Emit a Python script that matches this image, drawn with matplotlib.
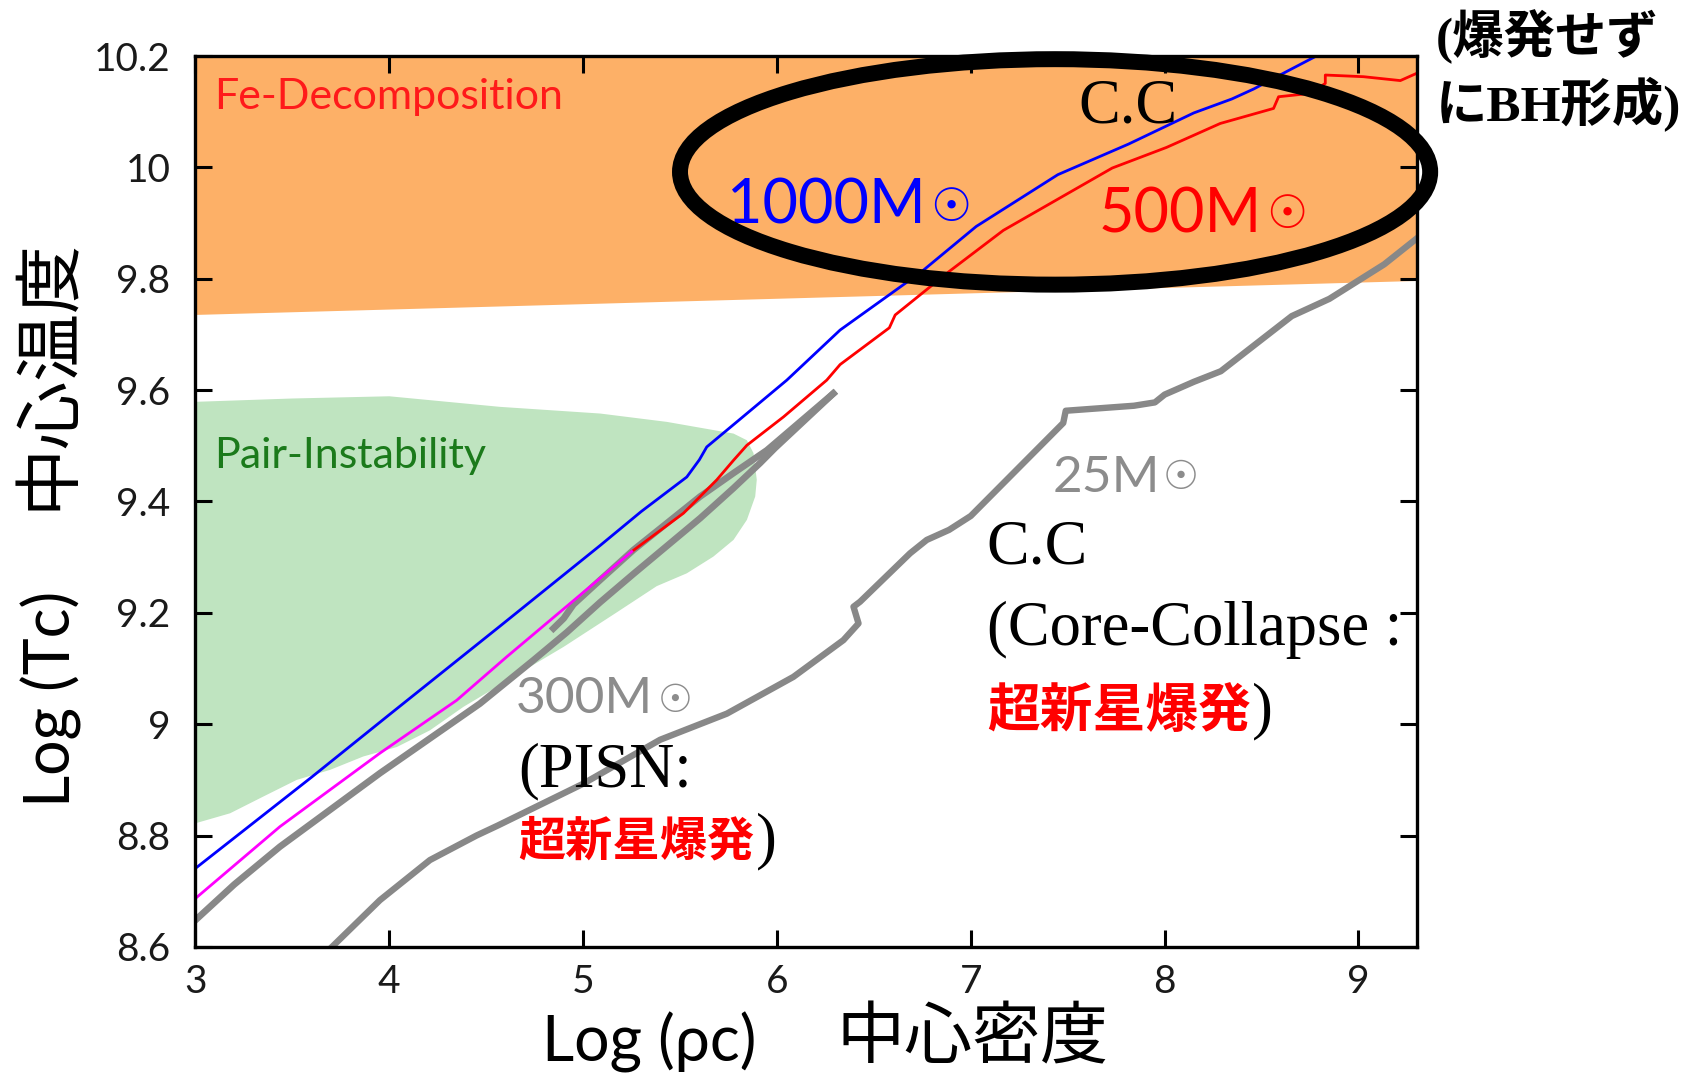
import numpy as np
import matplotlib
matplotlib.use("Agg")
import matplotlib.pyplot as plt
from matplotlib.patches import Ellipse

# ---------------- axes ----------------
x_ticks = [3, 4, 5, 6, 7, 8, 9]
x_tick_labels = ["3", "4", "5", "6", "7", "8", "9"]
y_ticks = [8.6, 8.8, 9.0, 9.2, 9.4, 9.6, 9.8, 10.0, 10.2]
y_tick_labels = ["8.6", "8.8", "9", "9.2", "9.4", "9.6", "9.8", "10", "10.2"]
x_range = (3.0, 9.3)
y_range = (8.6, 10.2)

# ---------------- shaded regimes ----------------
# lower edge of the Fe-decomposition zone (filled up to the top of the plot)
fe_edge_x = [3.0, 9.3]
fe_edge_y = [9.736, 9.797]

# outline of the pair-instability zone
pair_x = [3.0, 3.5, 4.0, 4.571, 5.088, 5.432, 5.776, 5.845, 5.879, 5.896, 5.888,
          5.845, 5.776, 5.672, 5.535, 5.38, 5.17, 4.90, 4.726, 4.555, 4.382,
          4.21, 4.039, 3.866, 3.695, 3.523, 3.35, 3.179, 3.0]
pair_y = [9.579, 9.585, 9.589, 9.570, 9.558, 9.543, 9.522, 9.510, 9.487, 9.439, 9.409,
          9.367, 9.331, 9.301, 9.271, 9.248, 9.200, 9.139, 9.103, 9.067, 9.031,
          8.989, 8.959, 8.942, 8.918, 8.900, 8.870, 8.840, 8.822]

# ---------------- central evolution tracks (log rho_c, log T_c) ----------------
m1000_x = [3.0, 3.6, 4.0, 4.571, 5.088, 5.30, 5.535, 5.60, 5.638, 5.80, 6.051,
           6.326, 6.747, 7.028, 7.449, 7.814, 8.151, 8.347, 8.46, 8.628, 8.782, 8.85]
m1000_y = [8.741, 8.905, 9.017, 9.176, 9.321, 9.382, 9.444, 9.475, 9.498, 9.545, 9.618,
           9.708, 9.813, 9.894, 9.987, 10.042, 10.098, 10.123, 10.141, 10.172, 10.2, 10.21]

# 500 Msun: early phase (magenta) and late phase (red)
m500_early_x = [3.0, 3.436, 3.952, 4.348, 4.606, 5.251]
m500_early_y = [8.687, 8.816, 8.948, 9.043, 9.121, 9.310]
m500_late_x = [5.251, 5.518, 5.69, 5.776, 5.845, 6.034, 6.257, 6.326, 6.58, 6.61,
               6.888, 7.168, 7.449, 7.73, 8.01, 8.287, 8.562, 8.588, 8.751, 8.829,
               8.829, 9.026, 9.216, 9.30]
m500_late_y = [9.310, 9.379, 9.439, 9.474, 9.501, 9.552, 9.618, 9.646, 9.712, 9.735,
               9.813, 9.887, 9.943, 9.999, 10.036, 10.079, 10.106, 10.127, 10.133, 10.151,
               10.166, 10.163, 10.156, 10.169]

# 300 Msun: contraction up to the bounce, then expansion back
m300_x = [3.0, 3.2, 3.436, 3.952, 4.468, 4.744, 4.916, 5.088, 5.260, 5.432,
          5.604, 5.776, 5.913, 5.99, 6.291]
m300_y = [8.648, 8.712, 8.780, 8.912, 9.037, 9.115, 9.165, 9.219, 9.270, 9.320,
          9.370, 9.424, 9.469, 9.496, 9.594]
m300_back_x = [6.291, 5.948, 5.776, 5.604, 5.432, 5.260, 5.088, 4.95, 4.90, 4.847]
m300_back_y = [9.594, 9.492, 9.451, 9.409, 9.361, 9.313, 9.259, 9.215, 9.190, 9.172]

# 25 Msun
m25_x = [3.69, 3.952, 4.21, 4.45, 4.56, 5.0, 5.397, 5.742, 6.085, 6.343, 6.421,
         6.395, 6.429, 6.687, 6.773, 6.888, 7.0, 7.477, 7.49, 7.842, 7.95, 8.0,
         8.151, 8.29, 8.656, 8.85, 9.133, 9.31]
m25_y = [8.595, 8.684, 8.756, 8.800, 8.818, 8.893, 8.972, 9.019, 9.085, 9.151, 9.181,
         9.211, 9.220, 9.307, 9.331, 9.349, 9.374, 9.541, 9.563, 9.572, 9.578, 9.592,
         9.615, 9.634, 9.733, 9.764, 9.826, 9.875]

# ---------------- styling ----------------
ORANGE = "#FDB067"
GREEN = "#BFE4C0"
GRAY = "#888888"
GRAY_TXT = "#8c8c8c"
SANS = ["Lato", "DejaVu Sans"]
SERIF = ["Liberation Serif", "DejaVu Serif"]
CJK = ["Noto Sans CJK JP", "DejaVu Sans"]
SERIF_CJK = ["Liberation Serif", "Noto Sans CJK JP"]
SUN = ["DejaVu Sans"]

W, H = 1693, 1077
fig = plt.figure(figsize=(W / 100, H / 100), dpi=100)
ax = fig.add_axes([195.4 / W, 1 - 946.9 / H, 1221.2 / W, 890.8 / H])
ax.set_xlim(*x_range)
ax.set_ylim(*y_range)

# regimes
ax.fill_between(fe_edge_x, fe_edge_y, y_range[1], color=ORANGE, lw=0, zorder=1)
ax.fill(pair_x, pair_y, color=GREEN, lw=0, zorder=1)

# tracks
ax.plot(m25_x, m25_y, color=GRAY, lw=4.6, solid_joinstyle="round", zorder=3)
ax.plot(m300_x, m300_y, color=GRAY, lw=4.8, solid_joinstyle="round", zorder=3)
ax.plot(m300_back_x, m300_back_y, color=GRAY, lw=4.8, solid_joinstyle="round", zorder=3)
ax.plot(m1000_x, m1000_y, color="#0000FF", lw=2.0, zorder=4)
ax.plot(m500_late_x, m500_late_y, color="#FF0000", lw=2.0, zorder=4)
ax.plot(m500_early_x, m500_early_y, color="#FF00FF", lw=2.0, zorder=4)

# ticks and frame
ax.set_xticks(x_ticks)
ax.set_xticklabels(x_tick_labels)
ax.set_yticks(y_ticks)
ax.set_yticklabels(y_tick_labels)
ax.tick_params(direction="in", length=12, width=2.2, top=True, right=True,
               labelsize=28, colors="black")
ax.tick_params(axis="y", pad=18)
ax.tick_params(axis="x", pad=12)
for lab in ax.get_xticklabels() + ax.get_yticklabels():
    lab.set_family(SANS)
    lab.set_color("#1a1a1a")
for sp in ax.spines.values():
    sp.set_linewidth(2.4)
    sp.set_zorder(6)

# region names
ax.text(3.095, 10.126, "Fe-Decomposition", color="#FF1A1A", fontsize=31,
        family=SANS, ha="left", va="center", zorder=5)
ax.text(3.095, 9.482, "Pair-Instability", color="#1B7A1B", fontsize=31,
        family=SANS, ha="left", va="center", zorder=5)

# mass labels
def mass_label(x_end, y_base, sun_x, sun_y, text, color, size, sun_size):
    ax.text(x_end, y_base, text, color=color, fontsize=size, family=SANS,
            ha="right", va="baseline", zorder=7)
    ax.text(sun_x, sun_y, "\u2609", color=color, fontsize=sun_size, family=SUN,
            ha="center", va="center", zorder=7)

mass_label(6.768, 9.900, 6.894, 9.927, "1000M", "#0000FF", 44, 33)
mass_label(8.502, 9.883, 8.628, 9.914, "500M", "#FF0000", 44, 33)
mass_label(7.977, 9.4176, 8.084, 9.443, "25M", GRAY_TXT, 37, 29)
mass_label(5.363, 9.0195, 5.474, 9.042, "300M", GRAY_TXT, 37, 28)

# fates
ax.text(7.553, 10.081, "C.C", family=SERIF, fontsize=45, color="black",
        ha="left", va="baseline", zorder=7)
ax.text(9.40, 10.234, "(爆発せず", family=SERIF_CJK, fontsize=37, weight="bold",
        color="black", ha="left", va="center", zorder=7)
ax.text(9.40, 10.112, "にBH形成)", family=SERIF_CJK, fontsize=37, weight="bold",
        color="black", ha="left", va="center", zorder=7)

ax.text(4.666, 8.889, "(PISN:", family=SERIF, fontsize=45, color="black",
        ha="left", va="baseline", zorder=7)
sn1 = ax.text(4.666, 8.790, "超新星爆発", family=CJK, fontsize=34, weight="bold",
              color="#FF0000", ha="left", va="center", zorder=7)
ax.annotate(")", xy=(1, 0.5), xycoords=sn1, xytext=(1, 0), textcoords="offset points",
            family=SERIF, fontsize=45, color="black", ha="left", va="center", zorder=7)

ax.text(7.078, 9.288, "C.C", family=SERIF, fontsize=46, color="black",
        ha="left", va="baseline", zorder=7)
ax.text(7.084, 9.142, "(Core-Collapse :", family=SERIF, fontsize=45, color="black",
        ha="left", va="baseline", zorder=7)
sn2 = ax.text(7.084, 9.023, "超新星爆発", family=CJK, fontsize=38, weight="bold",
              color="#FF0000", ha="left", va="center", zorder=7)
ax.annotate(")", xy=(1, 0.5), xycoords=sn2, xytext=(1, 0), textcoords="offset points",
            family=SERIF, fontsize=45, color="black", ha="left", va="center", zorder=7)

# collapse zone highlight
ax.add_patch(Ellipse((7.435, 9.992), 3.87, 0.405, fill=False, ec="black", lw=11.5,
                     clip_on=False, zorder=8))

# axis titles
fig.text(70.5 / W, 1 - 699.2 / H, "Log (Tc)", family=SANS, fontsize=45, rotation=90,
         rotation_mode="anchor", ha="center", va="baseline", color="black")
fig.text(48.8 / W, 1 - 374 / H, "中心温度", family=CJK, fontsize=49, rotation=90,
         rotation_mode="anchor", ha="center", va="center", color="black")
fig.text(542 / W, 1 - 1061.9 / H, "Log (\u03c1c)", family=SANS, fontsize=45,
         ha="left", va="baseline", color="black")
fig.text(836.8 / W, 1 - 1039 / H, "中心密度", family=CJK, fontsize=49,
         ha="left", va="center", color="black")

fig.savefig("out.png", dpi=100, facecolor="white")
